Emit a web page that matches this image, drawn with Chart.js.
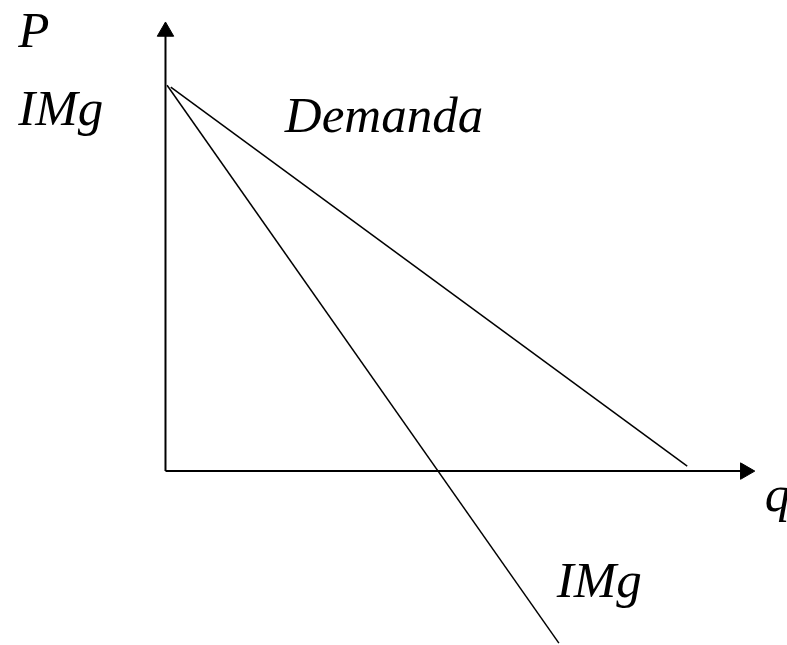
<!DOCTYPE html>
<html>
<head>
    <title>Demanda e IMg</title>
    <script src="https://cdn.jsdelivr.net/npm/chart.js"></script>
    <style>
        body { margin: 0; background: #fff; }
    </style>
</head>
<body>

<canvas id="monopoly_chart" width="787" height="645"></canvas>

<script>
// demand curve (q, P)
const demandQ = [0.1, 9.88];
const demandP = [10.0, 0.13];

// marginal revenue (IMg) curve
const imgQ = [0.03, 7.45];
const imgP = [10.05, -4.48];

// axes: origin to arrow head
const xAxisQ = [0, 10.98];
const xAxisP = [0, 0];
const yAxisQ = [0, 0];
const yAxisP = [0, 11.45];

// text labels
const labelText = ['P', 'IMg', 'Demanda', 'q', 'IMg'];
const labelQ = [-2.79, -2.79, 2.26, 11.35, 7.41];
const labelP = [11.04, 9.01, 8.83, -1.04, -3.28];

function toPoints(xs, ys) {
    return xs.map(function(x, i) { return { x: x, y: ys[i] }; });
}

const textLabels = {
    id: 'textLabels',
    afterDatasetsDraw: function(chart) {
        const ctx = chart.ctx;
        const xs = chart.scales.x;
        const ys = chart.scales.y;
        ctx.save();
        ctx.fillStyle = '#000';
        ctx.font = 'italic 51px "Liberation Serif", "Times New Roman", serif';
        ctx.textAlign = 'left';
        ctx.textBaseline = 'alphabetic';
        labelText.forEach(function(t, i) {
            ctx.fillText(t, xs.getPixelForValue(labelQ[i]), ys.getPixelForValue(labelP[i]));
        });
        ctx.restore();
    }
};

document.addEventListener("DOMContentLoaded", function() {
    const ctx = document.getElementById('monopoly_chart').getContext('2d');

    new Chart(ctx, {
        type: 'scatter',
        data: {
            datasets: [{
                label: 'Demanda',
                data: toPoints(demandQ, demandP),
                showLine: true,
                borderColor: '#000',
                borderWidth: 1.5,
                pointRadius: 0
            }, {
                label: 'IMg',
                data: toPoints(imgQ, imgP),
                showLine: true,
                borderColor: '#000',
                borderWidth: 1.5,
                pointRadius: 0
            }, {
                label: 'q axis',
                data: toPoints(xAxisQ, xAxisP),
                showLine: true,
                borderColor: '#000',
                borderWidth: 2,
                pointStyle: 'triangle',
                pointRadius: [0, 9.5],
                pointRotation: 90,
                pointBackgroundColor: '#000',
                pointBorderColor: '#000',
                pointBorderWidth: 1
            }, {
                label: 'P axis',
                data: toPoints(yAxisQ, yAxisP),
                showLine: true,
                borderColor: '#000',
                borderWidth: 2,
                pointStyle: 'triangle',
                pointRadius: [0, 9.5],
                pointRotation: 0,
                pointBackgroundColor: '#000',
                pointBorderColor: '#000',
                pointBorderWidth: 1
            }]
        },
        options: {
            responsive: false,
            animation: false,
            layout: { padding: 0, autoPadding: false },
            scales: {
                x: { type: 'linear', display: false, min: -3.134, max: 11.77 },
                y: { type: 'linear', display: false, min: -4.53, max: 12.27 }
            },
            plugins: {
                legend: { display: false },
                tooltip: { enabled: false }
            }
        },
        plugins: [textLabels]
    });
});
</script>

</body>
</html>
